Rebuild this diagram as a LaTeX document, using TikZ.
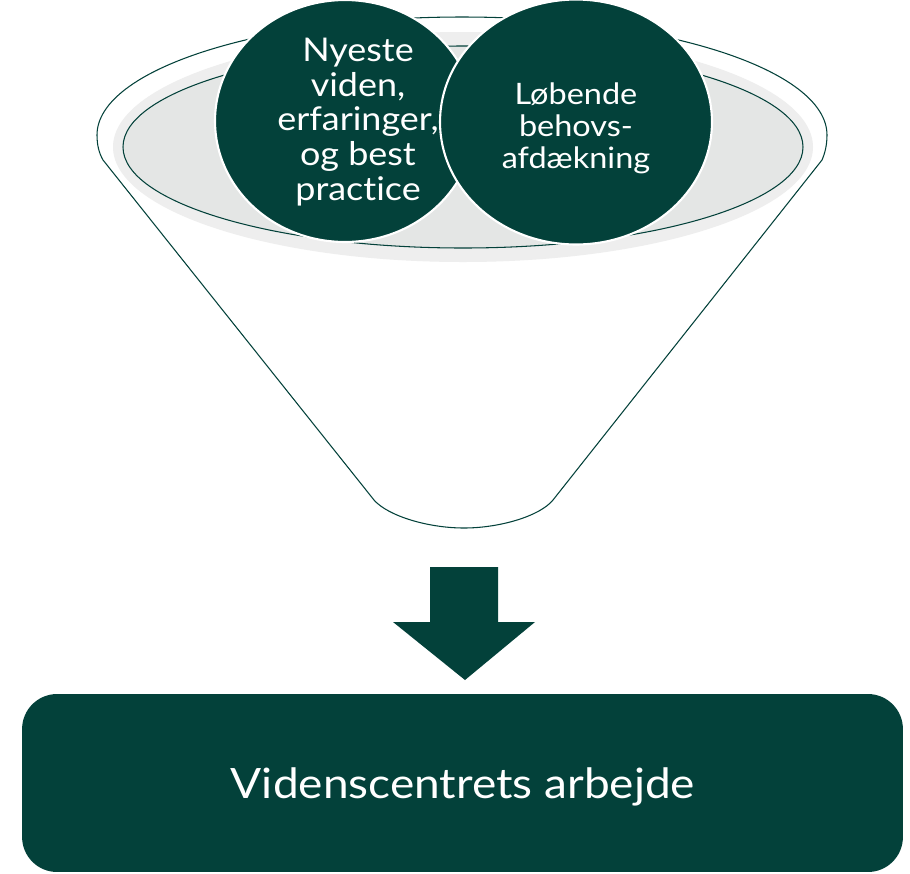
\documentclass[tikz,border=0pt]{standalone}
\usepackage{fontspec}
\setmainfont{Lato}[Ligatures=NoCommon]
\newfontfamily\widefont{Lato}[Ligatures=NoCommon, FakeStretch=1.1]
\usepackage{tikz}
\usetikzlibrary{shapes.geometric}
\definecolor{darkgreen}{HTML}{03413A}
\definecolor{rimgray}{HTML}{EEEEEE}
\definecolor{innergray}{HTML}{E4E6E5}
\tikzset{
    bubble/.style = {draw=white, fill=darkgreen, line width=1.2pt, ellipse, inner sep=0pt},
    bubble-text/.style = {text=white, align=center, font=\widefont\fontsize{18.6}{19.8}\selectfont},
    result-box/.style = {fill=darkgreen, rectangle, rounded corners=0.7cm},
    funnel-line/.style = {draw=darkgreen, line width=0.6pt},
}
\begin{document}
\begin{tikzpicture}[x=0.02cm, y=-0.02cm]
\useasboundingbox (0,0) rectangle (910,873);
% funnel body
\path[funnel-line, fill=white] (97,135) arc[start angle=180, end angle=360, x radius=365, y radius=118]
    .. controls (827,145) and (825,153) .. (822,160) -- (553,500)
    .. controls (540,516) and (500,528) .. (464,528)
    .. controls (428,528) and (388,516) .. (374,500) -- (103,160)
    .. controls (99,153) and (97,145) .. cycle;
\fill[rimgray] (463,147) ellipse[x radius=350, y radius=115];
\path[funnel-line, fill=innergray] (463,147) ellipse[x radius=340, y radius=101];
% the two inputs
\node[bubble, minimum width=5.2cm, minimum height=4.84cm] (viden) at (345,121) {};
\node[bubble-text] (viden-text) at (358,122) {Nyeste\\viden,\\erfaringer,\\og best\\practice};
\node[bubble, minimum width=5.44cm, minimum height=4.9cm] (behov) at (576,122) {};
\node[bubble-text, font=\widefont\fontsize{16.8}{18.2}\selectfont] (behov-text) at (576,128) {Løbende\\behovs-\\afdækning};
% arrow down
\fill[darkgreen] (430,567) -- (498,567) -- (498,622) -- (535,622) -- (465,680) -- (393,622) -- (430,622) -- cycle;
\node[result-box, minimum width=17.62cm, minimum height=3.56cm] (arbejde) at (462.5,783) {};
\node[text=white, font=\widefont\fontsize{23.8}{28}\selectfont] (arbejde-text) at (463,787) {Videnscentrets arbejde};
\end{tikzpicture}
\end{document}
